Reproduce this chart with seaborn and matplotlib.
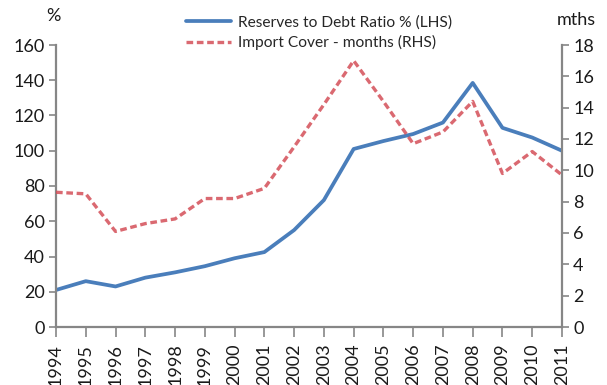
import matplotlib
matplotlib.use("Agg")
import matplotlib.pyplot as plt
import seaborn as sns
import pandas as pd

years = list(range(1994, 2012))
reserves_to_debt = [21, 26, 23, 28, 31, 34.5, 39, 42.5, 55, 72, 101, 105.5, 109.5, 116, 138.5, 113, 107.5, 100]
import_cover = [8.6, 8.5, 6.1, 6.6, 6.9, 8.2, 8.2, 8.85, 11.5, 14.2, 17.0, 14.4, 11.7, 12.45, 14.4, 9.8, 11.2, 9.7]
xtick_labels = [str(y) for y in years]

df = pd.DataFrame({"year": years, "ratio": reserves_to_debt, "cover": import_cover})

sns.set_style("white")
plt.rcParams['font.family'] = ['Lato', 'DejaVu Sans']

fig = plt.figure(figsize=(6.07, 3.85), dpi=100)
ax = fig.add_axes([56/607, 1-327/385, (562-56)/607, (327-45)/385])
ax2 = ax.twinx()

blue = "#4A7EBB"
red = "#D44F58"
sns.lineplot(data=df, x="year", y="ratio", ax=ax, color=blue, lw=2.7,
             label="Reserves to Debt Ratio % (LHS)", legend=False)
sns.lineplot(data=df, x="year", y="cover", ax=ax2, color=red, lw=2.4,
             linestyle=(0, (2.0, 1.1)), alpha=0.85,
             label="Import Cover - months (RHS)", legend=False)

ax.set_xlim(1994, 2011)
ax.set_ylim(0, 160)
ax2.set_ylim(0, 18)
ax.set_yticks(range(0, 161, 20))
ax2.set_yticks(range(0, 19, 2))
ax.set_xticks(years)
ax.set_xticklabels(xtick_labels, rotation=90)
ax.set_xlabel("")
ax.set_ylabel("")
ax2.set_ylabel("")

gray = "#868686"
for a in (ax, ax2):
    for s in a.spines.values():
        s.set_visible(False)
ax.spines['left'].set_visible(True)
ax.spines['bottom'].set_visible(True)
ax2.spines['right'].set_visible(True)
for s in (ax.spines['left'], ax.spines['bottom'], ax2.spines['right']):
    s.set_color(gray)
    s.set_linewidth(1.6)

ax.tick_params(axis='both', direction='out', length=5, width=1.2, color=gray,
               labelsize=13, labelcolor="#1a1a1a", left=True, bottom=True, pad=3)
ax.tick_params(axis='x', length=7, pad=5)
ax2.tick_params(axis='y', direction='out', length=5, width=1.2, color=gray,
                labelsize=13, labelcolor="#1a1a1a", right=True, pad=3)
ax.grid(False)
ax2.grid(False)

fig.text(53/607, 1-16/385, "%", fontsize=13, ha='center', va='center', color="#1a1a1a")
fig.text(576/607, 1-20/385, "mths", fontsize=13, ha='center', va='center', color="#1a1a1a")

h1, l1 = ax.get_legend_handles_labels()
h2, l2 = ax2.get_legend_handles_labels()
ax2.legend(h1 + h2, l1 + l2, loc='center', bbox_to_anchor=(319/607, 1-33/385),
           bbox_transform=fig.transFigure, frameon=False, fontsize=11.2,
           handlelength=2.9, handletextpad=0.45, labelspacing=0.35,
           borderpad=0.1)

fig.savefig("out.png", dpi=100)
